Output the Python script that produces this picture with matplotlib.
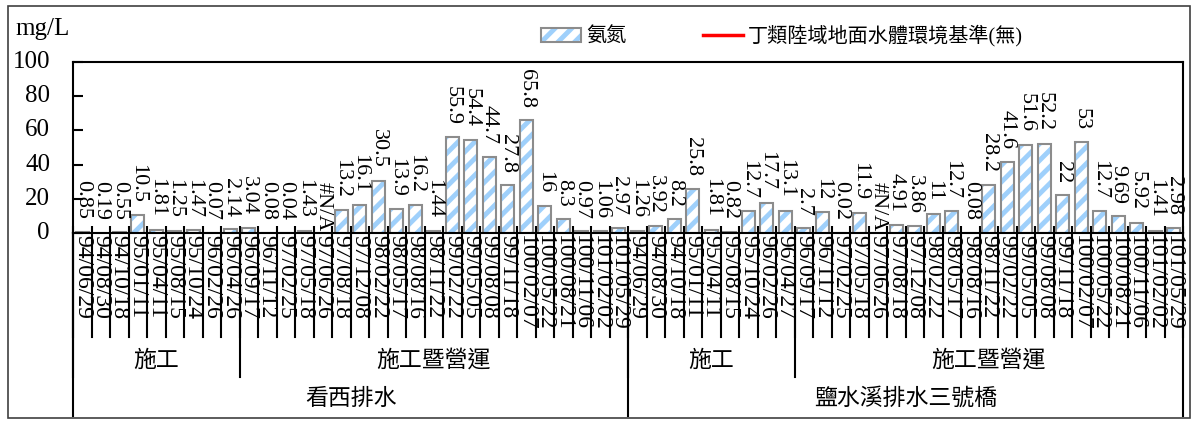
import numpy as np
import matplotlib.pyplot as plt
import matplotlib.transforms as mtransforms
from matplotlib.patches import Patch, Rectangle
from matplotlib.lines import Line2D

plt.rcParams['font.family'] = ['Liberation Serif', 'Noto Sans CJK TC']
plt.rcParams['hatch.linewidth'] = 3.5

# sampling dates (same schedule at both stations)
dates = ['94/06/29', '94/08/30', '94/10/18', '95/01/11', '95/04/11', '95/08/15',
         '95/10/24', '96/02/26', '96/04/26', '96/09/17', '96/11/12', '97/02/25',
         '97/05/18', '97/06/26', '97/08/18', '97/12/08', '98/02/22', '98/05/17',
         '98/08/16', '98/11/22', '99/02/22', '99/05/05', '99/08/08', '99/11/18',
         '100/02/07', '100/05/22', '100/08/21', '100/11/06', '101/02/02', '101/05/29']
dates2 = list(dates)
dates2[8] = '96/04/27'

sites = ['看西排水', '鹽水溪排水三號橋']
stages = ['施工', '施工暨營運']
stage_counts = [9, 21]

# 氨氮 (mg/L), nan = #N/A
kanxi = [0.85, 0.19, 0.55, 10.5, 1.81, 1.25, 1.47, 0.07, 2.14, 3.04,
         0.08, 0.04, 1.43, np.nan, 13.2, 16.1, 30.5, 13.9, 16.2, 1.44,
         55.9, 54.4, 44.7, 27.8, 65.8, 16, 8.3, 0.97, 1.06, 2.97]
yanshui = [1.26, 3.92, 8.2, 25.8, 1.81, 0.82, 12.7, 17.7, 13.1, 2.7,
           12, 0.02, 11.9, np.nan, 4.91, 3.86, 11, 12.7, 0.08, 28.2,
           41.6, 51.6, 52.2, 22, 53, 12.7, 9.69, 5.92, 1.41, 2.98]

yticks = [0, 20, 40, 60, 80, 100]

values = np.array(kanxi + yanshui, dtype=float)
labels = dates + dates2
n = len(values)
x = np.arange(n)

blue = '#9fd0fb'
gray = '#8c8c8c'

fig = plt.figure(figsize=(11.93, 4.23), dpi=100)
ax = fig.add_axes([73 / 1193, 190 / 423, 1110 / 1193, 171 / 423])

bar_vals = np.nan_to_num(values)
ax.bar(x, bar_vals, width=0.7, facecolor='white', edgecolor=blue, hatch='//', linewidth=0)
ax.bar(x, bar_vals, width=0.7, facecolor='none', edgecolor=gray, linewidth=1.5)

for xi, v in zip(x, values):
    if np.isnan(v):
        ax.annotate('#N/A', (xi, 0), xytext=(0, 1), textcoords='offset points',
                    rotation=270, ha='center', va='bottom', fontsize=16)
    else:
        ax.annotate('{:g}'.format(v), (xi, v), xytext=(0, 9), textcoords='offset points',
                    rotation=270, ha='center', va='bottom', fontsize=16)

ax.set_xlim(-0.5, n - 0.5)
ax.set_ylim(0, 100)
ax.set_yticks(yticks)
ax.tick_params(axis='y', direction='in', length=7, width=1.5, labelleft=False)
# y tick labels sit well left of the plot box
ylab_trans = mtransforms.blended_transform_factory(fig.transFigure, ax.transData)
for t in yticks:
    fig.text(50 / 1193, t, str(t), transform=ylab_trans, ha='right', va='center', fontsize=18)
ax.set_xticks(x)
ax.set_xticklabels(labels, rotation=270, fontsize=17, va='top', ha='center')
ax.tick_params(axis='x', which='major', length=0, pad=1.5)
ax.set_xticks(np.arange(n + 1) - 0.5, minor=True)
ax.tick_params(axis='x', which='minor', direction='in', length=5, width=1.5)
for s in ax.spines.values():
    s.set_linewidth(1.5)

# multi-level category separators
trans = mtransforms.blended_transform_factory(ax.transData, fig.transFigure)
y0 = ax.get_position().y0
for b in np.arange(n + 1) - 0.5:
    ax.plot([b, b], [y0, 86 / 423], transform=trans, color='black', lw=1.5, clip_on=False)

site_len = len(dates)
for k, site in enumerate(sites):
    start = k * site_len
    pos = start
    for st, cnt in zip(stages, stage_counts):
        ax.plot([pos - 0.5, pos - 0.5], [y0, 46 / 423], transform=trans, color='black', lw=1.5, clip_on=False)
        ax.text(pos + (cnt - 1) / 2, 62 / 423, st, transform=trans, ha='center', va='center', fontsize=16.5)
        pos += cnt
    ax.plot([start - 0.5, start - 0.5], [y0, 7 / 423], transform=trans, color='black', lw=1.5, clip_on=False)
    ax.text(start + (site_len - 1) / 2, 24 / 423, site, transform=trans, ha='center', va='center', fontsize=16.5)
ax.plot([n - 0.5, n - 0.5], [y0, 7 / 423], transform=trans, color='black', lw=1.5, clip_on=False)

fig.text(15 / 1193, 388 / 423, 'mg/L', ha='left', va='baseline', fontsize=18)

h_bar = (Patch(facecolor='white', edgecolor=blue, hatch='//', linewidth=0),
         Patch(facecolor='none', edgecolor=gray, linewidth=1.5))
h_line = Line2D([], [], color='red', lw=2.5)
fig.legend([h_bar, h_line], ['氨氮', '丁類陸域地面水體環境基準(無)'], ncol=2, loc='center',
           bbox_to_anchor=(782 / 1193, 387 / 423), frameon=False, fontsize=14.5,
           handlelength=2.0, handletextpad=0.25, columnspacing=3.8)

fig.patches.append(Rectangle((8 / 1193, 5 / 423), 1182 / 1193, 412 / 423, transform=fig.transFigure,
                             fill=False, edgecolor='#404040', linewidth=1.2))

fig.savefig('out.png', dpi=100)
